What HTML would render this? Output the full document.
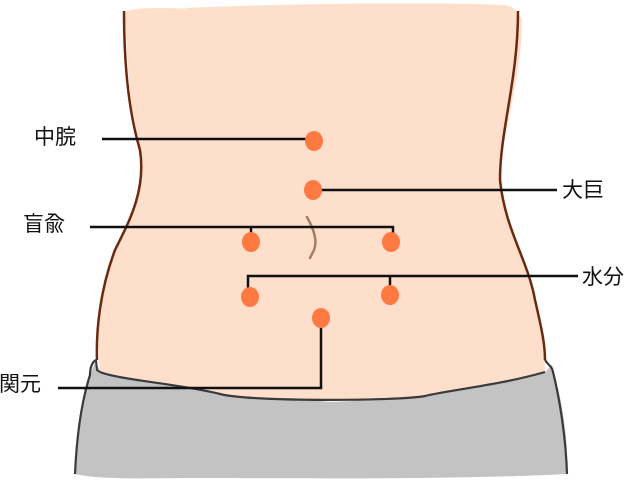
<!DOCTYPE html>
<html><head><meta charset="utf-8"><style>
html,body{margin:0;padding:0;background:#fff;width:640px;height:490px;overflow:hidden}
text{font-family:"Liberation Sans","Noto Sans CJK JP",sans-serif;font-size:21px;fill:#111}
</style></head><body>
<svg width="640" height="490" viewBox="0 0 640 490">
<!-- pants -->
<path d="M96,360 L100,372 C150,385 230,392 330,402 C420,398 480,385 545,372 L552,365 L556,380 C566,420 568,450 567,474 C450,480 300,478 200,478 C150,478 100,480 75,474 C76,430 82,400 90,375 Z" fill="#c3c3c3"/>
<!-- skin -->
<path d="M125,12 C135,5 200,10 185,8 C300,3 450,2 503,5 C515,6 518,12 522,20 C522,80 500,140 500,180 C505,230 530,260 535,300 C540,330 545,350 545,372 C500,385 450,390 425,396 C400,401 250,402 220,394 C180,384 120,380 100,372 C96,330 100,290 115,250 C135,210 142,180 140,160 C130,110 127,60 125,12 Z" fill="#fedfcb"/>
<!-- waistline & pants outline -->
<path d="M100,372 C120,380 180,384 220,394 C250,402 400,401 425,396 C450,390 500,385 545,372" fill="none" stroke="#3a3a3a" stroke-width="2.2"/>
<path d="M96,360 C92,362 90,368 90,375 C82,400 77,430 75,474" fill="none" stroke="#3a3a3a" stroke-width="2.2"/>
<path d="M545,360 C548,365 552,366 553,372 C560,400 566,440 567,474" fill="none" stroke="#3a3a3a" stroke-width="2.2"/>
<path d="M96,360 L97,370 L100,372" fill="none" stroke="#3a3a3a" stroke-width="2"/>
<!-- body outline -->
<path d="M124,11 C124,60 128,110 140,150 C146,190 130,220 115,250 C100,290 96,330 97,360" fill="none" stroke="#6b2a10" stroke-width="2.5"/>
<path d="M518,11 C518,80 500,130 500,180 C505,230 528,260 535,300 C542,330 545,345 545,360" fill="none" stroke="#6b2a10" stroke-width="2.5"/>
<!-- navel -->
<path d="M307,217 C313,228 318,240 314,250 L310,258" fill="none" stroke="#a87a66" stroke-width="2.5" stroke-linecap="round"/>
<!-- lines -->
<g stroke="#111" stroke-width="2.5" fill="none">
<path d="M102,139 H308"/>
<path d="M318,190 H557"/>
<path d="M90,227 H393 V240 M251,227 V240"/>
<path d="M248,295 V276 H578 M390,276 V290"/>
<path d="M321,320 V388 H58"/>
</g>
<g fill="#ff7a40">
<ellipse cx="314" cy="141" rx="9" ry="10"/>
<ellipse cx="313" cy="190" rx="9" ry="10"/>
<ellipse cx="251" cy="242" rx="9" ry="10"/>
<ellipse cx="391" cy="242" rx="9" ry="10"/>
<ellipse cx="250" cy="297" rx="9" ry="10"/>
<ellipse cx="390" cy="295" rx="9" ry="10"/>
<ellipse cx="321" cy="318" rx="9" ry="10"/>
</g>
<text x="34" y="144">中脘</text>
<text x="562" y="197">大巨</text>
<text x="23" y="231">盲兪</text>
<text x="582" y="284">水分</text>
<text x="-1" y="391">関元</text>
</svg>
</body></html>
